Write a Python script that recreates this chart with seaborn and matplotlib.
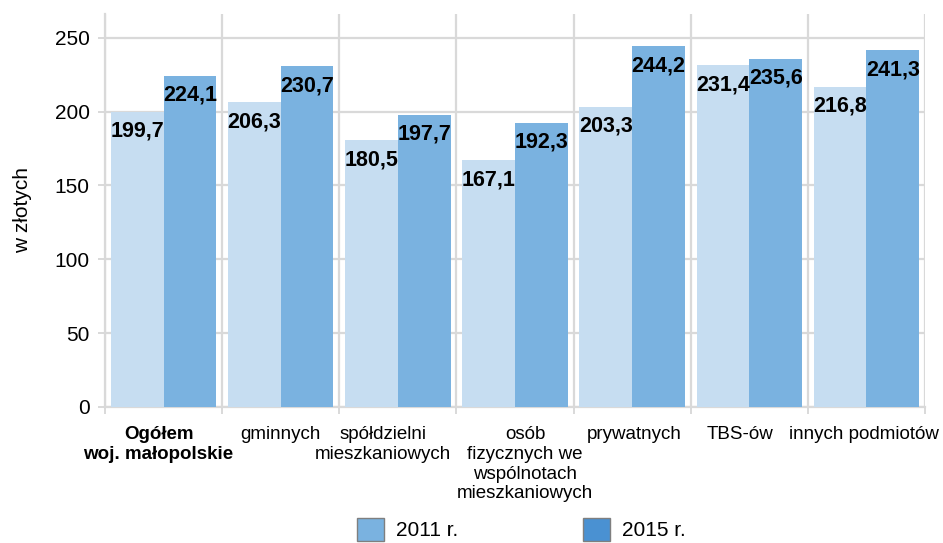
import matplotlib
matplotlib.use("Agg")
import matplotlib.pyplot as plt
from matplotlib.patches import Patch
from matplotlib.transforms import ScaledTranslation
import seaborn as sns
import pandas as pd

# Przeciętna opłata (w złotych) wg formy własności zasobu
categories = [
    "Ogółem\nwoj. małopolskie",
    "gminnych",
    "spółdzielni\nmieszkaniowych",
    "osób\nfizycznych we\nwspólnotach\nmieszkaniowych",
    "prywatnych",
    "TBS-ów",
    "innych podmiotów",
]
years = ["2011 r.", "2015 r."]
values_2011 = [199.7, 206.3, 180.5, 167.1, 203.3, 231.4, 216.8]
values_2015 = [224.1, 230.7, 197.7, 192.3, 244.2, 235.6, 241.3]
y_ticks = [0, 50, 100, 150, 200, 250]

bar_colors = ["#c6ddf1", "#7ab2e0"]
legend_colors = ["#7ab2e0", "#4a91d2"]
grid_color = "#d9d9d9"

df = pd.DataFrame({
    "kategoria": categories * 2,
    "rok": [years[0]] * len(categories) + [years[1]] * len(categories),
    "wartosc": values_2011 + values_2015,
})

sns.set_theme(style="white")
plt.rcParams["font.family"] = ["Liberation Sans", "DejaVu Sans"]
plt.rcParams["text.color"] = "black"
plt.rcParams["axes.labelcolor"] = "black"
plt.rcParams["xtick.color"] = "black"
plt.rcParams["ytick.color"] = "black"

fig = plt.figure(figsize=(9.43, 5.43), dpi=100)
ax = fig.add_axes([0.1113, 0.2505, 0.8696, 0.7237])

sns.barplot(data=df, x="kategoria", y="wartosc", hue="rok",
            palette=bar_colors, width=0.9, saturation=1, ax=ax,
            legend=False, linewidth=0, edgecolor="none", zorder=3)

ax.set_ylim(0, 266)
ax.set_xlim(-0.5, len(categories) - 0.5)
ax.set_yticks(y_ticks)
ax.set_yticklabels([str(t) for t in y_ticks], fontsize=15, color="black")
ax.set_xlabel("")
ax.set_ylabel("w złotych", fontsize=15, labelpad=16, color="black")

# siatka: poziome linie na podziałce, pionowe na granicach kategorii
ax.set_xticks([i - 0.5 for i in range(len(categories) + 1)], minor=True)
ax.grid(axis="y", which="major", color=grid_color, lw=1.6, zorder=0)
ax.grid(axis="x", which="minor", color=grid_color, lw=1.6, zorder=0)
ax.set_axisbelow(True)
for side in ["top", "right"]:
    ax.spines[side].set_visible(False)
for side in ["left", "bottom"]:
    ax.spines[side].set_color(grid_color)
    ax.spines[side].set_linewidth(1.6)
ax.tick_params(axis="y", which="major", length=5, width=1.4, color=grid_color,
               labelcolor="black", pad=6, left=True)
ax.tick_params(axis="x", which="major", length=0, pad=14, labelcolor="black")
ax.tick_params(axis="x", which="minor", length=5, width=1.4, color=grid_color, bottom=True)

# podpisy kategorii
x_offsets_px = [-5, 0, -15, 10, 2, -9, -2]
for lab, dx in zip(ax.get_xticklabels(), x_offsets_px):
    lab.set_fontsize(13.5)
    lab.set_color("black")
    lab.set_verticalalignment("top")
    lab.set_transform(lab.get_transform() + ScaledTranslation(dx / 100, 0, fig.dpi_scale_trans))
ax.get_xticklabels()[0].set_fontweight("bold")

# etykiety wartości wewnątrz słupków
for container, vals in zip(ax.containers, [values_2011, values_2015]):
    for patch, v in zip(container.patches, vals):
        ax.annotate(f"{v:.1f}".replace(".", ","),
                    xy=(patch.get_x() + patch.get_width() / 2, v),
                    xytext=(0, -14), textcoords="offset points",
                    ha="center", va="center", fontsize=15.5,
                    fontweight="bold", color="black", zorder=5)

handles = [Patch(facecolor=c, edgecolor="#7f7f7f", linewidth=1.0) for c in legend_colors]
fig.legend(handles, years, loc="lower center", bbox_to_anchor=(0.553, -0.03),
           ncol=2, frameon=False, fontsize=15, handlelength=1.3, handleheight=1.3,
           columnspacing=6.0, handletextpad=0.58)

fig.savefig("out.png", dpi=100)
